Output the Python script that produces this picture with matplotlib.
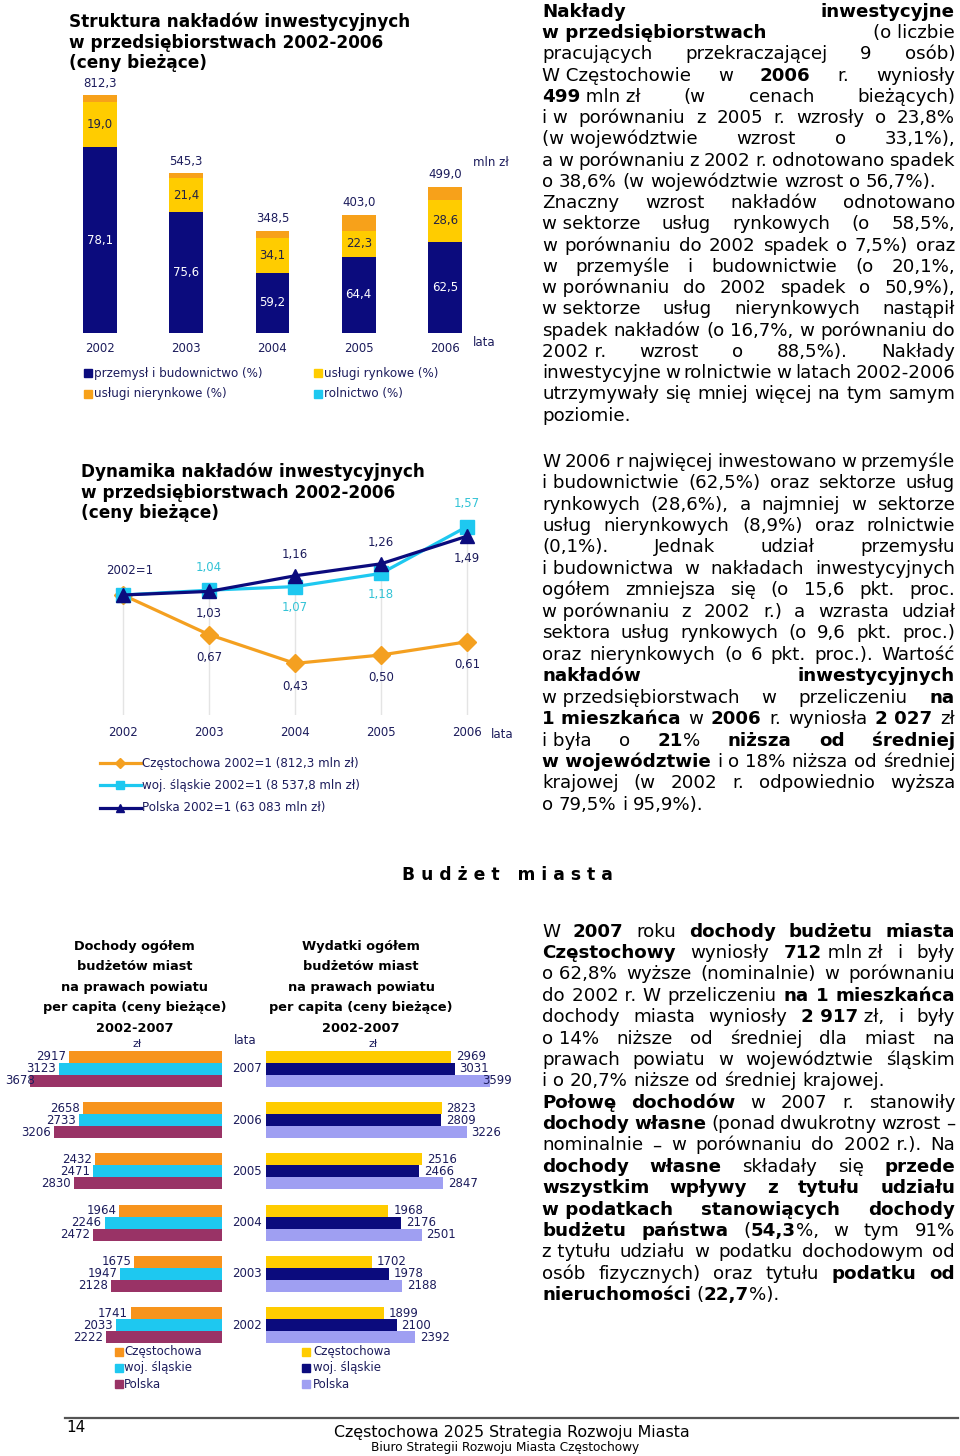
import numpy as np
import matplotlib
matplotlib.use("Agg")
import matplotlib.pyplot as plt
from matplotlib.font_manager import FontProperties
from matplotlib.patches import Rectangle
from matplotlib.lines import Line2D

plt.rcParams['font.family'] = ['DejaVu Sans']

# ---- data ----
years_inv = ['2002', '2003', '2004', '2005', '2006']
inv_total = [812.3, 545.3, 348.5, 403.0, 499.0]
share_industry = [78.1, 75.6, 59.2, 64.4, 62.5]
share_market = [19.0, 21.4, 34.1, 22.3, 28.6]
share_nonmarket = [2.8, 2.9, 6.6, 13.2, 8.9]
share_agri = [0.1, 0.1, 0.1, 0.1, 0.1]

dyn_czest = [1.00, 0.67, 0.43, 0.50, 0.61]
dyn_slask = [1.00, 1.04, 1.07, 1.18, 1.57]
dyn_polska = [1.00, 1.03, 1.16, 1.26, 1.49]

years_bud = ['2007', '2006', '2005', '2004', '2003', '2002']
inc_czest = [2917, 2658, 2432, 1964, 1675, 1741]
inc_slask = [3123, 2733, 2471, 2246, 1947, 2033]
inc_polska = [3678, 3206, 2830, 2472, 2128, 2222]
exp_czest = [2969, 2823, 2516, 1968, 1702, 1899]
exp_slask = [3031, 2809, 2466, 2176, 1978, 2100]
exp_polska = [3599, 3226, 2847, 2501, 2188, 2392]

NAVY = '#0b0b7d'
YELLOW = '#ffcc00'
ORANGE = '#f7a11a'
CYAN = '#1ec8f0'
MAROON = '#993366'
LAVENDER = '#9f9ff2'
LBL = '#1c1c5c'
CYAN_TXT = '#33c3d6'

W, H = 960, 1456
fig = plt.figure(figsize=(W / 100, H / 100), dpi=100)
rend = fig.canvas.get_renderer()


def px_axes(l, t, r, b):
    ax = fig.add_axes([l / W, 1 - b / H, (r - l) / W, (b - t) / H])
    ax.set_axis_off()
    return ax


def ftext(x, y, s, **kw):
    return fig.text(x / W, 1 - y / H, s, **kw)


def text_w(s, weight='normal', size=10, family='DejaVu Sans'):
    fp = FontProperties(family=family, weight=weight, size=size)
    return rend.get_text_width_height_descent(s, fp, ismath=False)[0]


def fit(s, target, weight='normal', family='DejaVu Sans'):
    return 10 * target / text_w(s, weight, 10, family)


def fmt(v, nd=1):
    return f'{v:.{nd}f}'.replace('.', ',')


def square(x, y, col, size=8):
    fig.add_artist(Rectangle((x / W, 1 - (y + size / 2) / H), size / W, size / H,
                             color=col, transform=fig.transFigure))


# ---- chart 1: struktura ----
t1 = fit('Struktura nakładów inwestycyjnych', 342, 'bold')
for s, yb in zip(['Struktura nakładów inwestycyjnych', 'w przedsiębiorstwach 2002-2006',
                  '(ceny bieżące)'], [27, 47.5, 68]):
    ftext(69, yb, s, fontsize=t1, fontweight='bold', va='baseline')

ax1 = px_axes(57, 95, 488, 333)
x = np.arange(len(years_inv))
tot = np.array(inv_total)
bottom = np.zeros(len(x))
for sh, col in [(share_industry, NAVY), (share_market, YELLOW),
                (share_nonmarket, ORANGE), (share_agri, CYAN)]:
    h = tot * np.array(sh) / 100
    ax1.bar(x, h, 0.39, bottom=bottom, color=col, linewidth=0)
    if sh is share_industry or sh is share_market:
        tc = 'white' if col == NAVY else '#222244'
        for xi, b, hh, v in zip(x, bottom, h, sh):
            ax1.text(xi, b + hh / 2, fmt(v), ha='center', va='center', color=tc, fontsize=8.5)
    bottom += h
ax1.set_xlim(-0.5, 4.5)
ax1.set_ylim(0, 812.3)
for xi, v, yr in zip(x, inv_total, years_inv):
    ax1.annotate(fmt(v), (xi, v), xytext=(0, 12), textcoords='offset pixels',
                 ha='center', va='center', color=LBL, fontsize=8.5)
    ax1.annotate(yr, (xi, 0), xytext=(0, -16), textcoords='offset pixels',
                 ha='center', va='center', color=LBL, fontsize=8.5)
ftext(473, 163, 'mln zł', fontsize=8.5, color=LBL, va='center')
ftext(473, 342, 'lata', fontsize=8.5, color=LBL, va='center')

for (sx, sy, col, lab) in [(84, 373, NAVY, 'przemysł i budownictwo (%)'),
                           (314, 373, YELLOW, 'usługi rynkowe (%)'),
                           (84, 394, ORANGE, 'usługi nierynkowe (%)'),
                           (314, 394, CYAN, 'rolnictwo (%)')]:
    square(sx, sy, col)
    ftext(sx + 10, sy, lab, fontsize=8.6, color=LBL, va='center')

# ---- chart 2: dynamika ----
t2 = fit('Dynamika nakładów inwestycyjnych', 343, 'bold')
for s, yb in zip(['Dynamika nakładów inwestycyjnych', 'w przedsiębiorstwach 2002-2006',
                  '(ceny bieżące)'], [477, 497.5, 518]):
    ftext(81, yb, s, fontsize=t2, fontweight='bold', va='baseline')

ax2 = px_axes(80, 511, 510, 715)
ax2.set_xlim(-0.5, 4.5)
ax2.set_ylim(0, 1.7)
tops = np.maximum(np.maximum(dyn_czest, dyn_slask), dyn_polska)
ax2.vlines(x, 0, tops, color='#e4e4e4', lw=1, zorder=0)
ax2.plot(x, dyn_czest, color='#f4a020', lw=2.3, marker='D', ms=9, zorder=2)
ax2.plot(x, dyn_slask, color=CYAN, lw=2.3, marker='s', ms=10.5, zorder=3)
ax2.plot(x, dyn_polska, color=NAVY, lw=2.3, marker='^', ms=10.5, zorder=4)
ax2.annotate('2002=1', (0, 1), xytext=(7, 25), textcoords='offset pixels',
             ha='center', va='center', color=LBL, fontsize=8.5)
for i in range(1, 5):
    p_up = dyn_polska[i] > dyn_slask[i]
    ax2.annotate(fmt(dyn_polska[i], 2), (i, dyn_polska[i]), xytext=(0, 21 if p_up else -22),
                 textcoords='offset pixels', ha='center', va='center', color=LBL, fontsize=8.5)
    ax2.annotate(fmt(dyn_slask[i], 2), (i, dyn_slask[i]), xytext=(0, -21 if p_up else 23),
                 textcoords='offset pixels', ha='center', va='center', color=CYAN_TXT, fontsize=8.5)
    ax2.annotate(fmt(dyn_czest[i], 2), (i, dyn_czest[i]), xytext=(0, -23),
                 textcoords='offset pixels', ha='center', va='center', color=LBL, fontsize=8.5)
for xi, yr in zip(x, years_inv):
    ax2.annotate(yr, (xi, 0), xytext=(0, -17), textcoords='offset pixels',
                 ha='center', va='center', color=LBL, fontsize=8.5)
ftext(491, 734, 'lata', fontsize=8.5, color=LBL, va='center')

for (ly, col, mk, lab) in [(763, '#f4a020', 'D', 'Częstochowa 2002=1 (812,3 mln zł)'),
                           (785, CYAN, 's', 'woj. śląskie 2002=1 (8 537,8 mln zł)'),
                           (808, NAVY, '^', 'Polska 2002=1 (63 083 mln zł)')]:
    fy = 1 - ly / H
    fig.add_artist(Line2D([100 / W, 141 / W], [fy, fy], color=col, lw=2.3))
    fig.add_artist(Line2D([120 / W], [fy], color=col, marker=mk, ms=5.5))
    ftext(142, ly, lab, fontsize=8.6, color=LBL, va='center')

# ---- section heading ----
hs = 'B u d ż e t   m i a s t a'
ftext(507, 880, hs, fontsize=fit(hs, 211, 'bold'), fontweight='bold', ha='center', va='baseline')

# ---- budget charts ----
bt = fit('per capita (ceny bieżące)', 184, 'bold')
btitle = ['Dochody ogółem', 'budżetów miast', 'na prawach powiatu',
          'per capita (ceny bieżące)', '2002-2007']
for k, yb in enumerate([950, 970.5, 991, 1011.5, 1032]):
    ftext(134.5, yb, btitle[k], fontsize=bt, fontweight='bold', ha='center', va='baseline')
    s = 'Wydatki ogółem' if k == 0 else btitle[k]
    ftext(361, yb, s, fontsize=bt, fontweight='bold', ha='center', va='baseline')
ftext(137, 1044, 'zł', fontsize=8, color=LBL, ha='center', va='center')
ftext(373, 1044, 'zł', fontsize=8, color=LBL, ha='center', va='center')
ftext(234, 1041, 'lata', fontsize=8.5, color=LBL, va='center')

yi = np.arange(len(years_bud))
bh = 12 / 51.2
blbl = 8.5
# dochody: bars grow to the left from x=222 px
inc_scale = 0.0523
ax3 = px_axes(10, 1040, 222, 1350)
ax3.set_xlim(212 / inc_scale, 0)
ax3.set_ylim(5.488, -0.566)
for off, vals, col in [(-bh, inc_czest, '#f7941d'), (0, inc_slask, CYAN), (bh, inc_polska, MAROON)]:
    ax3.barh(yi + off, vals, bh, color=col, linewidth=0)
    for yy, v in zip(yi + off, vals):
        # keep the label inside the page: it may overlap the bar like in the original
        left_px = 222 - v * inc_scale
        dx = max(-3, 5 + text_w(str(v), size=blbl) - left_px)
        ax3.annotate(str(v), (v, yy), xytext=(dx, 0), textcoords='offset pixels',
                     ha='right', va='center', color=LBL, fontsize=blbl, annotation_clip=False)
for yy, yr in zip(yi, years_bud):
    ax3.annotate(yr, (0, yy), xytext=(10, 0), textcoords='offset pixels',
                 ha='left', va='center', color=LBL, fontsize=blbl)

# wydatki: bars grow to the right from x=266 px
exp_scale = 0.0622
ax4 = px_axes(266, 1040, 520, 1350)
ax4.set_xlim(0, 254 / exp_scale)
ax4.set_ylim(5.488, -0.566)
for off, vals, col in [(-bh, exp_czest, YELLOW), (0, exp_slask, NAVY), (bh, exp_polska, LAVENDER)]:
    ax4.barh(yi + off, vals, bh, color=col, linewidth=0)
    for yy, v in zip(yi + off, vals):
        right_px = 266 + v * exp_scale
        dx = min(5, 512 - text_w(str(v), size=blbl) - right_px)
        ax4.annotate(str(v), (v, yy), xytext=(dx, 0), textcoords='offset pixels',
                     ha='left', va='center', color=LBL, fontsize=blbl, annotation_clip=False)

for k, (lab, c1, c2) in enumerate([('Częstochowa', '#f7941d', YELLOW),
                                   ('woj. śląskie', CYAN, NAVY),
                                   ('Polska', MAROON, LAVENDER)]):
    ly = 1352 + 16 * k
    square(115, ly, c1)
    ftext(124, ly, lab, fontsize=blbl, color=LBL, va='center')
    square(302, ly, c2)
    ftext(313, ly, lab, fontsize=blbl, color=LBL, va='center')

# ---- justified body text ----
# '*' toggles bold, '~' is a space that does not stretch, '|' ends a paragraph
block1 = [
    '*Nakłady inwestycyjne*',
    '*w~przedsiębiorstwach* (o~liczbie',
    'pracujących przekraczającej 9 osób)',
    'W~Częstochowie w *2006* r. wyniosły',
    '*499*~mln~zł (w cenach bieżących)',
    'i~w porównaniu z 2005 r. wzrosły o 23,8%',
    '(w~województwie wzrost o 33,1%),',
    'a w porównaniu z 2002 r. odnotowano spadek',
    'o 38,6% (w województwie wzrost o 56,7%).|',
    'Znaczny wzrost nakładów odnotowano',
    'w~sektorze usług rynkowych (o 58,5%,',
    'w porównaniu do 2002 spadek o 7,5%) oraz',
    'w przemyśle i budownictwie (o 20,1%,',
    'w~porównaniu do 2002 spadek o 50,9%),',
    'w~sektorze usług nierynkowych nastąpił',
    'spadek nakładów (o 16,7%, w porównaniu do',
    '2002~r. wzrost o 88,5%). Nakłady',
    'inwestycyjne w rolnictwie w latach 2002-2006',
    'utrzymywały się mniej więcej na tym samym',
    'poziomie.|',
]
block2 = [
    'W 2006 r najwięcej inwestowano w przemyśle',
    'i~budownictwie (62,5%) oraz sektorze usług',
    'rynkowych (28,6%), a najmniej w sektorze',
    'usług nierynkowych (8,9%) oraz rolnictwie',
    '(0,1%). Jednak udział przemysłu',
    'i~budownictwa w nakładach inwestycyjnych',
    'ogółem zmniejsza się (o 15,6 pkt. proc.',
    'w~porównaniu z 2002 r.) a wzrasta udział',
    'sektora usług rynkowych (o 9,6 pkt. proc.)',
    'oraz nierynkowych (o 6 pkt. proc.). Wartość',
    '*nakładów inwestycyjnych*',
    'w~przedsiębiorstwach w przeliczeniu *na*',
    '*1~mieszkańca* w *2006* r. wyniosła *2~027* zł',
    'i~była o *21*% *niższa od średniej*',
    '*w~województwie* i o 18% niższa od średniej',
    'krajowej (w 2002 r. odpowiednio wyższa',
    'o 79,5% i 95,9%).|',
]
block3 = [
    'W *2007* roku *dochody budżetu miasta*',
    '*Częstochowy* wyniosły *712*~mln~zł i były',
    'o~62,8% wyższe (nominalnie) w porównaniu',
    'do 2002~r. W przeliczeniu *na 1 mieszkańca*',
    'dochody miasta wyniosły *2~917*~zł, i były',
    'o~14% niższe od średniej dla miast na',
    'prawach powiatu w województwie śląskim',
    'i~o 20,7% niższe od średniej krajowej.|',
    '*Połowę dochodów* w 2007 r. stanowiły',
    '*dochody własne* (ponad dwukrotny wzrost –',
    'nominalnie – w porównaniu do 2002~r.). Na',
    '*dochody własne* składały się *przede*',
    '*wszystkim wpływy z tytułu udziału*',
    '*w~podatkach stanowiących dochody*',
    '*budżetu państwa* (*54,3*%, w tym 91%',
    'z~tytułu udziału w podatku dochodowym od',
    'osób fizycznych) oraz tytułu *podatku od*',
    '*nieruchomości* (*22,7*%).|',
]


def parse(line):
    words, bold = [], False
    for tok in line.split(' '):
        runs = []
        for k, p in enumerate(tok.split('*')):
            if k > 0:
                bold = not bold
            if p:
                runs.append((p.replace('~', ' '), 'bold' if bold else 'normal'))
        words.append(runs)
    return words


def paragraph(lines, x0, x1, y0, dy, size):
    sp = text_w('a a', 'normal', size) - text_w('aa', 'normal', size)
    for i, line in enumerate(lines):
        left = line.endswith('|')
        words = parse(line.rstrip('|'))
        widths = [sum(text_w(t, wt, size) for t, wt in w) for w in words]
        if left or len(words) == 1:
            gap = sp
        else:
            gap = (x1 - x0 - sum(widths)) / (len(words) - 1)
        xx = x0
        for w, wd in zip(words, widths):
            xr = xx
            for t, wt in w:
                ftext(xr, y0 + i * dy, t, fontsize=size, fontweight=wt, va='baseline')
                xr += text_w(t, wt, size)
            xx += wd + gap


body = fit('o 38,6% (w województwie wzrost o 56,7%).', 394.7)
paragraph(block1, 542, 955, 16.8, 21.26, body)
paragraph(block2, 542, 955, 466.7, 21.45, body)
paragraph(block3, 542, 955, 936.7, 21.37, body)

# ---- footer ----
fig.add_artist(Line2D([65 / W, 958 / W], [1 - 1418 / H] * 2, color='#555555', lw=1.6))
ffam = ['Liberation Sans Narrow', 'DejaVu Sans']
ftext(66, 1428, '14', fontsize=11, va='center', family=ffam)
f1 = 'Częstochowa 2025 Strategia Rozwoju Miasta'
f2 = 'Biuro Strategii Rozwoju Miasta Częstochowy'
ftext(512, 1432, f1, fontsize=fit(f1, 355, family=ffam), va='center', ha='center', family=ffam)
ftext(505, 1447, f2, fontsize=fit(f2, 270, family=ffam), va='center', ha='center', family=ffam)

fig.savefig('out.png', dpi=100)
